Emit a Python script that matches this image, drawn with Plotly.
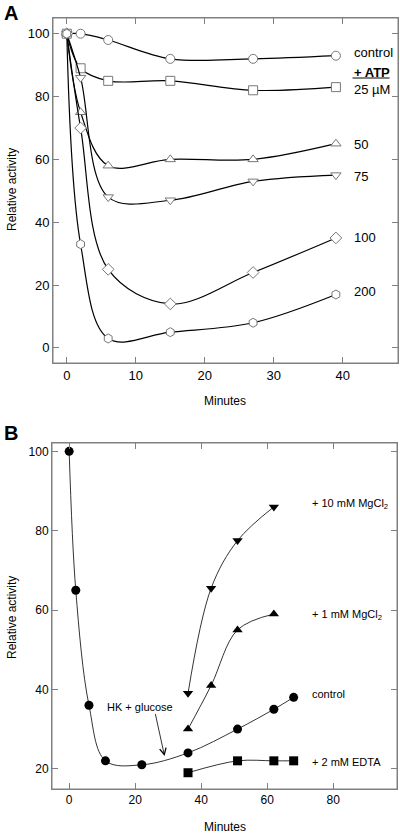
import plotly.graph_objects as go

# ---------- Panel A data ----------
a_x = [0, 2, 6, 15, 27, 39]
a_control = [100, 100, 98, 92, 92, 93]
a_atp25 = [100, 89, 85, 85, 82, 83]
a_atp50 = [100, 75, 58, 60, 60, 65]
a_atp75 = [100, 86, 48, 47, 53, 55]
a_atp100 = [100, 70, 25, 14, 24, 35]
a_atp200 = [100, 33, 3, 5, 8, 17]
a_xticks = [0, 10, 20, 30, 40]
a_yticks = [0, 20, 40, 60, 80, 100]

# ---------- Panel B data ----------
b_ctrl_x = [0, 2, 6, 11, 22, 36, 51, 62, 68]
b_ctrl_y = [100, 65, 36, 22, 21, 24, 30, 35, 38]
b_mg1_x = [36, 43, 51, 62]
b_mg1_y = [30, 41, 55, 59]
b_mg10_x = [36, 43, 51, 62]
b_mg10_y = [39, 65.5, 77.5, 86]
b_edta_x = [36, 51, 62, 68]
b_edta_y = [19, 22, 22, 22]
b_xticks = [0, 20, 40, 60, 80]
b_yticks = [20, 40, 60, 80, 100]

FONT = "Liberation Sans, Arial, sans-serif"
AXC = "#808080"
MK_LINE = "#777777"

fig = go.Figure()

a_series = [
    (a_control, "circle"),
    (a_atp25, "square"),
    (a_atp50, "triangle-up"),
    (a_atp75, "triangle-down"),
    (a_atp100, "diamond"),
    (a_atp200, "hexagon"),
]
for ys, sym in a_series:
    fig.add_trace(go.Scatter(
        x=a_x, y=ys, mode="lines+markers", xaxis="x", yaxis="y",
        line=dict(color="black", width=1.2, shape="spline", smoothing=1.0),
        marker=dict(symbol=sym, size=9, color="white",
                    line=dict(color=MK_LINE, width=1)),
        showlegend=False, cliponaxis=False))

b_series = [
    (b_ctrl_x, b_ctrl_y, "circle"),
    (b_mg1_x, b_mg1_y, "triangle-up"),
    (b_mg10_x, b_mg10_y, "triangle-down"),
    (b_edta_x, b_edta_y, "square"),
]
for xs, ys, sym in b_series:
    fig.add_trace(go.Scatter(
        x=xs, y=ys, mode="lines+markers", xaxis="x2", yaxis="y2",
        line=dict(color="black", width=0.8, shape="spline", smoothing=1.0),
        marker=dict(symbol=sym, size=9, color="black"),
        showlegend=False, cliponaxis=False))

def axis_common(size):
    return dict(showline=True, linecolor=AXC, linewidth=1, mirror="ticks",
                ticks="inside", ticklen=6, tickcolor=AXC, tickwidth=1,
                showgrid=False, zeroline=False, layer="above traces",
                tickfont=dict(family=FONT, size=size, color="black"))

fig.update_layout(
    width=400, height=837,
    margin=dict(l=0, r=0, t=0, b=0),
    paper_bgcolor="white", plot_bgcolor="white",
    xaxis=dict(domain=[53/400, 398/400], range=[-2, 48], anchor="y",
               tickvals=a_xticks, **axis_common(13)),
    yaxis=dict(domain=[1-363/837, 1-18/837], range=[-4.8, 105], anchor="x",
               tickvals=a_yticks, **axis_common(13)),
    xaxis2=dict(domain=[52/400, 397/400], range=[-5.2, 99.3], anchor="y2",
                tickvals=b_xticks, **axis_common(12)),
    yaxis2=dict(domain=[1-789/837, 1-443/837], range=[14.9, 102.1], anchor="x2",
                tickvals=b_yticks, **axis_common(12)),
)

# frames drawn explicitly around each plot area
for xr, yr in (("x", "y"), ("x2", "y2")):
    fig.add_shape(type="rect", xref=f"{xr} domain", yref=f"{yr} domain",
                  x0=0, x1=1, y0=0, y1=1, line=dict(color=AXC, width=1),
                  fillcolor="rgba(0,0,0,0)", layer="above")

ann = []
def txt(text, x, y, xref="paper", yref="paper", size=13, xanchor="left", angle=0):
    ann.append(dict(text=text, x=x, y=y, xref=xref, yref=yref, showarrow=False,
                    xanchor=xanchor, yanchor="middle", textangle=angle,
                    font=dict(family=FONT, size=size, color="black")))

# Panel letters
txt("<b>A</b>", 2/400, 1-13/837, size=20)
txt("<b>B</b>", 2/400, 1-433/837, size=20)

# Axis titles
txt("Relative activity", 12/400, 1-190/837, size=12, xanchor="center", angle=-90)
txt("Minutes", 225/400, 1-401/837, size=12, xanchor="center")
txt("Relative activity", 12/400, 1-618/837, size=12, xanchor="center", angle=-90)
txt("Minutes", 225/400, 1-827/837, size=12, xanchor="center")

# Panel A labels
txt("control", 41.3, 94, "x", "y", size=13)
txt("<b>+ ATP</b>", 41.3, 87.6, "x", "y", size=13)
txt("25 \u00b5M", 41.3, 82.3, "x", "y", size=13)
txt("50", 41.3, 64.8, "x", "y", size=13)
txt("75", 41.3, 54.6, "x", "y", size=13)
txt("100", 41.3, 35.2, "x", "y", size=13)
txt("200", 41.3, 17.8, "x", "y", size=13)

# Panel B labels
txt("+ 10 mM MgCl<sub>2</sub>", 73, 86.8, "x2", "y2", size=11)
txt("+ 1 mM MgCl<sub>2</sub>", 73, 58.8, "x2", "y2", size=11)
txt("control", 73, 38.8, "x2", "y2", size=11)
txt("+ 2 mM EDTA", 73, 21.6, "x2", "y2", size=11)
txt("HK + glucose", 140/400, 1-707/837, size=11, xanchor="center")

# Arrow
ann.append(dict(x=28.9, y=23.2, ax=26, ay=34.2, xref="x2", yref="y2",
                axref="x2", ayref="y2", showarrow=True, arrowhead=5,
                arrowsize=1.6, arrowwidth=0.8, arrowcolor="black", text=""))

fig.update_layout(annotations=ann)

# underline for "+ ATP"
fig.add_shape(type="line", xref="paper", yref="paper",
              x0=352.5/400, x1=389.5/400, y0=1-78/837, y1=1-78/837,
              line=dict(color="black", width=1))

fig.write_html("out.html", config={"displayModeBar": False},
               post_script="document.body.style.margin='0';document.body.style.overflow='hidden';")
